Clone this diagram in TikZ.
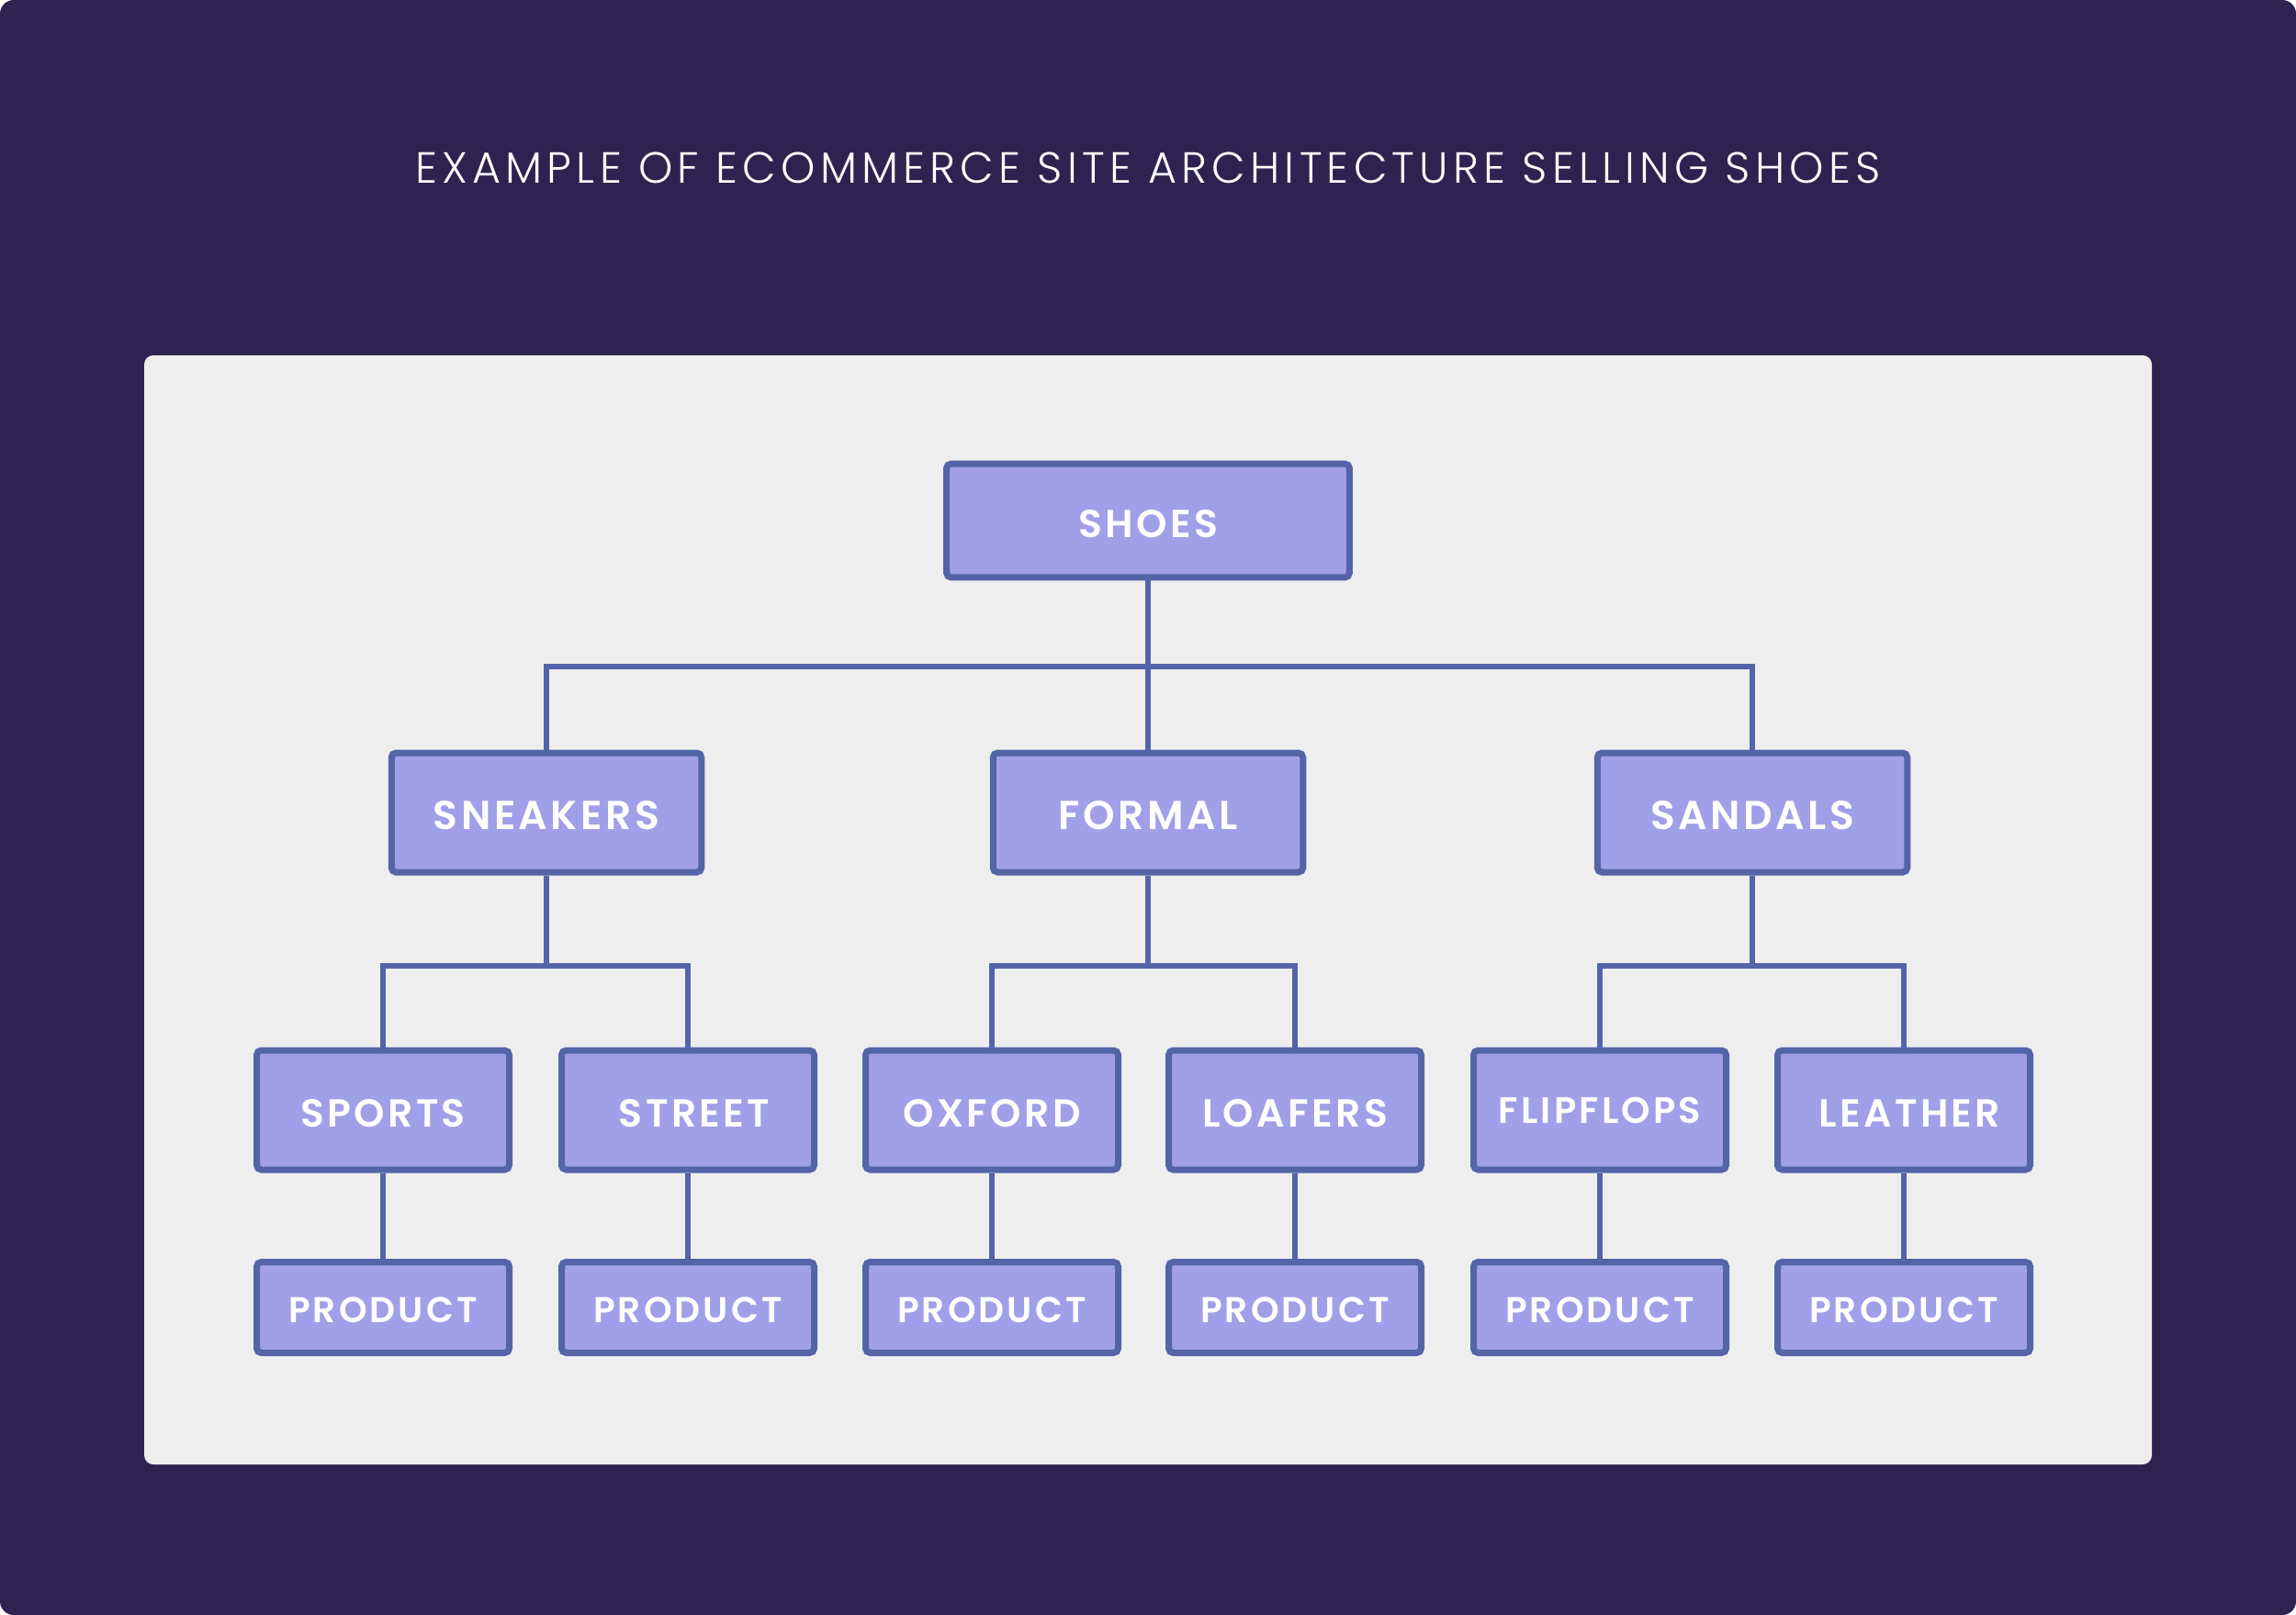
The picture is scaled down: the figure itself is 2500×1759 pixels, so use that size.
\documentclass[tikz,border=0pt]{standalone}
\usepackage{fontspec}
\setmainfont{Poppins}
\newfontfamily\labelfont{Poppins SemiBold}[LetterSpace=8]
\newfontfamily\titlefont{Poppins Light}[LetterSpace=11]
\definecolor{bgdark}{RGB}{46,35,80}
\definecolor{panel}{RGB}{238,238,238}
\definecolor{boxfill}{RGB}{160,160,232}
\definecolor{boxline}{RGB}{84,100,168}
\tikzset{
  catbox/.style={draw=boxline, fill=boxfill, line width=2.8pt, rounded corners=2pt,
    inner sep=0pt, text=white, font=\labelfont\fontsize{17}{17}\selectfont,
    text height=14.4pt, text depth=0pt},
  lvltwo/.style={catbox, minimum width=135pt, minimum height=52pt, font=\labelfont\fontsize{17.6}{17.6}\selectfont},
  lvlthree/.style={catbox, minimum width=110pt, minimum height=52pt},
  prodbox/.style={catbox, minimum width=110pt, minimum height=39.6pt, font=\labelfont\fontsize{15.6}{15.6}\selectfont, text height=13.4pt},
  conn/.style={draw=boxline, line width=2.5pt},
}
\begin{document}
\begin{tikzpicture}[x=0.4pt, y=-0.4pt]
\useasboundingbox (0,0) rectangle (2500,1759);
\fill[bgdark, rounded corners=6pt] (0,0) rectangle (2500,1759);
\fill[panel, rounded corners=4pt] (157,387) rectangle (2343,1595);
\node[anchor=base, text=white, font=\titlefont\fontsize{19}{19}\selectfont] (title) at (1250,200) {EXAMPLE OF ECOMMERCE SITE ARCHITECTURE SELLING SHOES};

% level 1
\node[catbox, minimum width=175.5pt, minimum height=49.5pt] (shoes) at (1250,567) {SHOES};
% level 2
\node[lvltwo] (sneakers) at (595,885) {SNEAKERS};
\node[lvltwo] (formal) at (1250,885) {FORMAL};
\node[lvltwo] (sandals) at (1908,885) {SANDALS};
% level 3
\node[lvlthree] (sports) at (417,1209) {SPORTS};
\node[lvlthree] (street) at (749,1209) {\hspace*{5.6pt}STREET};
\node[lvlthree] (oxford) at (1080,1209) {OXFORD};
\node[lvlthree] (loafers) at (1410,1209) {LOAFERS};
\node[lvlthree, font=\labelfont\fontsize{16}{16}\selectfont, text height=11.2pt] (flipflops) at (1742,1209) {FLIPFLOPS};
\node[lvlthree] (leather) at (2073,1209) {\hspace*{5pt}LEATHER};
% level 4
\node[prodbox] (p1) at (417,1424) {PRODUCT};
\node[prodbox] (p2) at (749,1424) {PRODUCT};
\node[prodbox] (p3) at (1080,1424) {PRODUCT};
\node[prodbox] (p4) at (1410,1424) {PRODUCT};
\node[prodbox] (p5) at (1742,1424) {PRODUCT};
\node[prodbox] (p6) at (2073,1424) {PRODUCT};

\coordinate (bus0) at (0,726);
\coordinate (bus1) at (0,1052);

% connectors
\draw[conn] (shoes.south) -- (formal.north);
\draw[conn] (sneakers.north) |- (shoes.south |- bus0) -| (sandals.north);

\draw[conn] (sneakers.south) -- (sneakers.south |- bus1);
\draw[conn] (sports.north) |- (sneakers.south |- bus1) -| (street.north);

\draw[conn] (formal.south) -- (formal.south |- bus1);
\draw[conn] (oxford.north) |- (formal.south |- bus1) -| (loafers.north);

\draw[conn] (sandals.south) -- (sandals.south |- bus1);
\draw[conn] (flipflops.north) |- (sandals.south |- bus1) -| (leather.north);

\draw[conn] (sports.south) -- (p1.north);
\draw[conn] (street.south) -- (p2.north);
\draw[conn] (oxford.south) -- (p3.north);
\draw[conn] (loafers.south) -- (p4.north);
\draw[conn] (flipflops.south) -- (p5.north);
\draw[conn] (leather.south) -- (p6.north);
\end{tikzpicture}
\end{document}
